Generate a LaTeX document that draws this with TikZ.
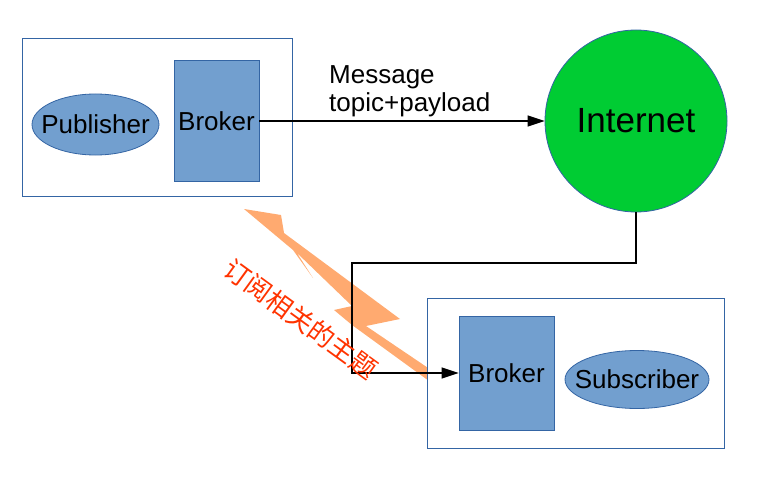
\documentclass[tikz,border=0pt]{standalone}
\usepackage{fontspec}
\setmainfont{Liberation Sans}
\newfontfamily\cjkfont{Noto Sans CJK SC}
\usepackage{xcolor}
\usepackage{tikz}
\usetikzlibrary{arrows.meta,positioning,shapes}

\definecolor{lineblue}{HTML}{3465A4}
\definecolor{fillblue}{HTML}{729FCF}
\definecolor{netgreen}{HTML}{00CC33}
\definecolor{boltorange}{HTML}{FFAA70}
\definecolor{textred}{HTML}{FF3300}

\begin{document}
\begin{tikzpicture}[x=1pt,y=-1pt,frame/.style={draw=lineblue, rectangle, fill=white, line width=0.9pt}]
        \tikzstyle{broker} = [draw=lineblue, fill=fillblue, rectangle, line width=0.8pt, font=\fontsize{26}{30}\selectfont]
        \tikzstyle{client} = [draw=lineblue, fill=fillblue, ellipse, line width=0.8pt, inner sep=0pt, font=\fontsize{26}{30}\selectfont]
        \tikzstyle{link} = [black, line width=1.2pt, -{Triangle[length=17pt,width=11pt]}]
        \useasboundingbox (0,0) rectangle (767,484);

        % lightning bolt behind everything
        \fill[boltorange] (244,209) -- (281,215) -- (284,233) -- (400,319) -- (366,326)
            -- (440,376) -- (440,389) -- (352,325) -- (334,310) -- (352,306)
            -- (297,253) -- (313,278) -- (293,250) -- cycle;

        % publishing side
        \node[frame, minimum width=270pt, minimum height=158pt] (pubbox) at (157,117) {};
        \node[client, minimum width=127pt, minimum height=61pt] (publisher) at (95.5,124.5) {\makebox[0pt]{Publisher}};
        \node[broker, minimum width=85pt, minimum height=121pt] (pubbroker) at (216.5,121) {Broker};
        \node[circle, draw=lineblue, fill=netgreen, line width=0.8pt, minimum size=182pt,
              font=\fontsize{35}{40}\selectfont] (internet) at (636,121) {Internet};
        \node[anchor=base west, align=left, inner sep=0pt,
              font=\fontsize{26}{28.5}\selectfont] (msg) at (329,111.7) {Message\\topic+payload};

        % subscribing side
        \node[frame, minimum width=297pt, minimum height=150pt] (subbox) at (575.5,373) {};
        \node[broker, minimum width=95pt, minimum height=114pt] (subbroker) at (506.5,373) {Broker};
        \node[client, minimum width=144pt, minimum height=58pt] (subscriber) at (637,379.5) {\makebox[0pt]{Subscriber}};

        \coordinate (turnA) at (352,263);
        \coordinate (turnB) at (352,373);

        \draw [link] (pubbroker) -- (internet);
        \draw [link] (internet.south) |- (turnA) -- (turnB) -- (subbroker.west);

        \node[rotate=-36, text=textred, font=\cjkfont\fontsize{26}{30}\selectfont] (topic) at (301,319) {订阅相关的主题};
\end{tikzpicture}
\end{document}
